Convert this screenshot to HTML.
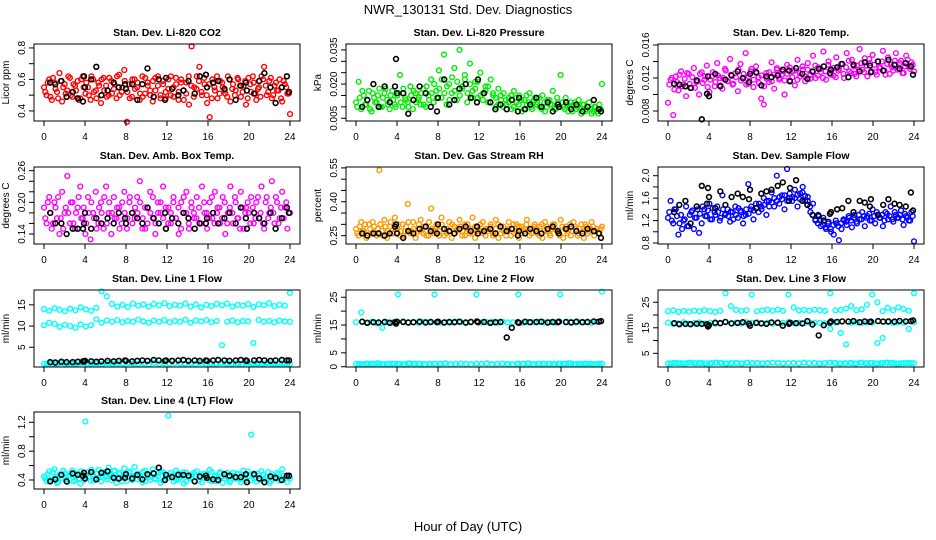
<!DOCTYPE html>
<html><head><meta charset="utf-8"><style>
html,body{margin:0;padding:0;background:#fff}
svg{display:block;font-family:"Liberation Sans",Arial,sans-serif}
</style></head><body>
<svg id="c" width="936" height="540" viewBox="0 0 936 540">
<text x="468" y="14" text-anchor="middle" font-size="13">NWR_130131  Std. Dev. Diagnostics</text>
<text x="468" y="531" text-anchor="middle" font-size="13">Hour of Day (UTC)</text>
</svg>
<script>
// shared hourly sample times (black points)
const hourX = [0.6,1.1,1.7,2.2,2.8,3.3,3.8,3.9,4.0,4.6,5.1,5.6,6.2,6.8,7.3,7.9,8.0,8.6,9.1,9.6,10.1,10.7,11.2,11.8,11.9,12.5,13.1,13.6,14.1,14.7,15.2,15.8,15.9,16.5,17.0,17.6,18.1,18.7,19.2,19.7,19.8,20.5,21.0,21.5,22.1,22.6,23.2,23.7,23.9];
const xTicks = [0,4,8,12,16,20,24];

const co2 = [0.55,0.50,0.60,0.47,0.58,0.52,0.64,0.46,0.57,0.53,0.61,0.49,0.56,0.59,0.48,0.62,0.51,0.55,0.47,0.60,0.53,0.58,0.45,0.61,0.56,0.50,0.59,0.54,0.48,0.63,0.52,0.66,0.33,0.57,0.49,0.60,0.55,0.47,0.62,0.51,0.58,0.53,0.46,0.61,0.56,0.50,0.59,0.48,0.54,0.62,0.49,0.57,0.52,0.60,0.47,0.58,0.44,0.81,0.55,0.62,0.68,0.50,0.57,0.45,0.36,0.60,0.53,0.48,0.59,0.55,0.51,0.62,0.46,0.57,0.53,0.60,0.49,0.56,0.44,0.61,0.52,0.58,0.47,0.55,0.62,0.68,0.50,0.59,0.48,0.56,0.53,0.60,0.46,0.57,0.51,0.38];
const co2B = [0.52,0.58,0.49,0.61,0.54,0.48,0.59,0.55,0.51,0.62,0.50,0.57,0.53,0.47,0.60,0.55,0.58,0.50,0.62,0.52,0.48,0.56,0.60,0.53,0.49,0.61,0.51,0.57,0.62,0.50,0.55,0.59,0.52,0.48,0.60,0.54,0.58,0.51,0.49,0.61,0.56,0.50,0.59,0.53,0.62,0.48,0.57,0.52,0.60,0.50,0.55,0.61,0.47,0.58,0.53,0.51,0.62,0.56,0.49,0.54,0.59,0.52,0.61,0.50,0.57,0.48,0.55,0.62,0.51,0.58,0.53,0.49,0.60,0.54,0.50,0.61,0.56,0.52,0.59,0.48,0.57,0.62,0.51,0.54,0.49,0.60,0.56,0.52,0.61,0.50,0.58,0.53,0.48,0.59,0.55,0.51];
const co2Hr = [0.58,0.57,0.59,0.49,0.52,0.48,0.46,0.62,0.55,0.60,0.68,0.50,0.53,0.58,0.55,0.57,0.54,0.57,0.47,0.57,0.67,0.49,0.60,0.47,0.61,0.54,0.50,0.53,0.59,0.51,0.62,0.63,0.55,0.58,0.59,0.54,0.60,0.47,0.56,0.58,0.53,0.51,0.59,0.64,0.55,0.45,0.55,0.62,0.52];

const press = [0.012,0.021,0.009,0.015,0.011,0.017,0.008,0.014,0.012,0.018,0.010,0.016,0.013,0.009,0.017,0.011,0.015,0.024,0.010,0.014,0.012,0.019,0.009,0.016,0.013,0.011,0.018,0.010,0.015,0.022,0.012,0.017,0.026,0.014,0.033,0.011,0.020,0.016,0.027,0.013,0.035,0.018,0.024,0.012,0.029,0.017,0.021,0.014,0.025,0.016,0.019,0.012,0.022,0.015,0.010,0.018,0.013,0.016,0.011,0.014,0.009,0.017,0.012,0.015,0.008,0.013,0.011,0.016,0.009,0.014,0.012,0.010,0.015,0.008,0.013,0.011,0.017,0.009,0.012,0.024,0.010,0.014,0.008,0.012,0.011,0.009,0.013,0.007,0.011,0.009,0.012,0.007,0.010,0.008,0.011,0.020];
const pressB = [0.010,0.014,0.017,0.011,0.013,0.009,0.016,0.012,0.015,0.010,0.014,0.018,0.011,0.015,0.013,0.010,0.016,0.012,0.018,0.013,0.010,0.015,0.017,0.012,0.014,0.016,0.011,0.019,0.013,0.016,0.020,0.014,0.018,0.022,0.016,0.019,0.013,0.023,0.017,0.021,0.015,0.019,0.022,0.016,0.020,0.014,0.018,0.021,0.015,0.013,0.017,0.019,0.012,0.016,0.014,0.011,0.015,0.010,0.013,0.012,0.015,0.010,0.014,0.011,0.013,0.009,0.015,0.012,0.010,0.013,0.011,0.014,0.009,0.012,0.010,0.013,0.011,0.009,0.014,0.010,0.012,0.009,0.011,0.010,0.008,0.012,0.010,0.009,0.011,0.008,0.010,0.009,0.008,0.010,0.007,0.009];
const pressHr = [0.010,0.013,0.020,0.010,0.019,0.012,0.019,0.031,0.016,0.016,0.007,0.013,0.019,0.016,0.010,0.008,0.014,0.022,0.011,0.013,0.018,0.020,0.014,0.012,0.022,0.016,0.012,0.009,0.011,0.009,0.013,0.008,0.014,0.009,0.011,0.014,0.010,0.012,0.008,0.011,0.010,0.012,0.009,0.011,0.008,0.010,0.013,0.009,0.008];

const ltemp = [0.0090,0.0118,0.0075,0.0122,0.0105,0.0128,0.0112,0.0098,0.0125,0.0108,0.0132,0.0115,0.0100,0.0127,0.0118,0.0135,0.0103,0.0122,0.0110,0.0138,0.0120,0.0107,0.0131,0.0116,0.0143,0.0112,0.0126,0.0104,0.0137,0.0119,0.0150,0.0113,0.0128,0.0109,0.0134,0.0121,0.0095,0.0088,0.0126,0.0115,0.0139,0.0107,0.0130,0.0118,0.0124,0.0100,0.0136,0.0117,0.0128,0.0111,0.0142,0.0122,0.0130,0.0116,0.0138,0.0124,0.0147,0.0120,0.0133,0.0127,0.0152,0.0118,0.0140,0.0129,0.0123,0.0145,0.0131,0.0137,0.0120,0.0150,0.0128,0.0142,0.0125,0.0135,0.0155,0.0130,0.0144,0.0122,0.0138,0.0148,0.0127,0.0140,0.0133,0.0153,0.0124,0.0145,0.0136,0.0129,0.0150,0.0132,0.0141,0.0126,0.0147,0.0134,0.0139,0.0128];
const ltempB = [0.0112,0.0120,0.0106,0.0115,0.0124,0.0110,0.0119,0.0126,0.0113,0.0121,0.0108,0.0117,0.0125,0.0114,0.0122,0.0109,0.0118,0.0127,0.0115,0.0123,0.0111,0.0120,0.0129,0.0116,0.0124,0.0113,0.0121,0.0130,0.0117,0.0125,0.0112,0.0122,0.0131,0.0118,0.0126,0.0114,0.0123,0.0110,0.0119,0.0127,0.0116,0.0124,0.0132,0.0120,0.0128,0.0117,0.0125,0.0133,0.0121,0.0129,0.0118,0.0126,0.0134,0.0122,0.0130,0.0119,0.0127,0.0135,0.0123,0.0131,0.0120,0.0128,0.0136,0.0124,0.0132,0.0121,0.0129,0.0137,0.0125,0.0133,0.0141,0.0126,0.0134,0.0122,0.0130,0.0138,0.0127,0.0135,0.0143,0.0128,0.0136,0.0124,0.0132,0.0140,0.0129,0.0137,0.0125,0.0133,0.0141,0.0130,0.0138,0.0126,0.0134,0.0142,0.0131,0.0136];
const ltempHr = [0.0113,0.0112,0.0110,0.0108,0.0117,0.0070,0.0101,0.0122,0.0098,0.0125,0.0110,0.0118,0.0123,0.0128,0.0120,0.0115,0.0125,0.0127,0.0111,0.0122,0.0121,0.0123,0.0130,0.0129,0.0116,0.0132,0.0125,0.0119,0.0128,0.0131,0.0134,0.0126,0.0130,0.0133,0.0137,0.0121,0.0136,0.0128,0.0139,0.0135,0.0127,0.0140,0.0129,0.0142,0.0136,0.0131,0.0138,0.0134,0.0124];

const btemp = [0.19,0.16,0.21,0.15,0.20,0.17,0.14,0.22,0.18,0.25,0.16,0.20,0.15,0.19,0.23,0.17,0.14,0.21,0.13,0.18,0.22,0.16,0.20,0.15,0.23,0.18,0.14,0.21,0.17,0.19,0.16,0.22,0.15,0.20,0.18,0.17,0.21,0.24,0.15,0.19,0.16,0.22,0.17,0.14,0.20,0.18,0.23,0.15,0.19,0.16,0.21,0.17,0.14,0.20,0.18,0.22,0.15,0.19,0.17,0.21,0.16,0.23,0.18,0.15,0.20,0.17,0.22,0.19,0.16,0.21,0.14,0.18,0.23,0.16,0.20,0.17,0.22,0.15,0.19,0.18,0.21,0.16,0.20,0.17,0.23,0.15,0.21,0.18,0.24,0.16,0.20,0.17,0.22,0.19,0.15,0.18];
const btempB = [0.17,0.20,0.18,0.16,0.19,0.21,0.17,0.15,0.19,0.18,0.20,0.16,0.18,0.21,0.17,0.19,0.16,0.18,0.20,0.17,0.15,0.19,0.18,0.21,0.16,0.20,0.18,0.17,0.19,0.15,0.20,0.18,0.17,0.21,0.16,0.19,0.18,0.20,0.17,0.15,0.19,0.18,0.21,0.16,0.18,0.20,0.17,0.19,0.16,0.18,0.20,0.17,0.19,0.15,0.21,0.18,0.16,0.20,0.18,0.17,0.19,0.16,0.20,0.18,0.17,0.21,0.16,0.18,0.19,0.17,0.20,0.16,0.19,0.18,0.21,0.17,0.15,0.19,0.18,0.20,0.16,0.19,0.17,0.21,0.18,0.16,0.20,0.17,0.19,0.18,0.21,0.16,0.19,0.17,0.20,0.18];
const btempHr = [0.18,0.16,0.16,0.14,0.15,0.15,0.15,0.16,0.18,0.15,0.17,0.16,0.17,0.16,0.18,0.17,0.16,0.18,0.17,0.16,0.19,0.17,0.16,0.18,0.15,0.17,0.16,0.18,0.17,0.15,0.16,0.16,0.17,0.18,0.16,0.17,0.18,0.16,0.19,0.17,0.15,0.18,0.17,0.16,0.18,0.15,0.17,0.19,0.18];

const rh = [0.28,0.25,0.31,0.27,0.24,0.30,0.26,0.29,0.25,0.54,0.27,0.32,0.24,0.29,0.26,0.33,0.28,0.25,0.30,0.27,0.39,0.26,0.31,0.24,0.28,0.32,0.26,0.29,0.25,0.37,0.27,0.30,0.25,0.33,0.28,0.26,0.31,0.24,0.29,0.27,0.32,0.25,0.30,0.28,0.26,0.33,0.24,0.29,0.27,0.31,0.25,0.28,0.30,0.26,0.32,0.24,0.29,0.27,0.25,0.31,0.28,0.26,0.30,0.24,0.29,0.27,0.32,0.25,0.28,0.30,0.26,0.29,0.24,0.31,0.27,0.25,0.30,0.28,0.26,0.32,0.24,0.29,0.27,0.25,0.31,0.28,0.26,0.30,0.24,0.29,0.27,0.31,0.25,0.28,0.26,0.29];
const rhB = [0.26,0.29,0.27,0.30,0.25,0.28,0.31,0.26,0.28,0.30,0.25,0.29,0.27,0.31,0.26,0.28,0.30,0.27,0.25,0.29,0.31,0.27,0.28,0.26,0.30,0.27,0.29,0.25,0.31,0.28,0.26,0.29,0.27,0.30,0.25,0.28,0.27,0.30,0.26,0.28,0.29,0.27,0.25,0.30,0.28,0.26,0.29,0.27,0.30,0.26,0.28,0.27,0.29,0.25,0.28,0.30,0.26,0.29,0.27,0.28,0.25,0.30,0.27,0.29,0.26,0.28,0.30,0.27,0.26,0.29,0.28,0.25,0.30,0.27,0.29,0.26,0.28,0.30,0.27,0.25,0.29,0.28,0.26,0.30,0.27,0.29,0.25,0.28,0.27,0.30,0.26,0.28,0.29,0.27,0.26,0.28];
const rhHr = [0.26,0.25,0.26,0.26,0.25,0.26,0.29,0.30,0.26,0.24,0.27,0.26,0.28,0.29,0.27,0.26,0.30,0.28,0.27,0.26,0.28,0.29,0.27,0.29,0.26,0.27,0.28,0.26,0.29,0.27,0.28,0.25,0.27,0.26,0.28,0.27,0.26,0.28,0.29,0.27,0.26,0.28,0.29,0.27,0.26,0.28,0.27,0.26,0.24];

const sflow = [1.25,1.55,1.15,1.40,0.95,1.30,1.20,1.45,1.10,1.35,1.05,1.25,0.98,1.15,1.40,1.28,1.50,1.22,1.35,1.45,1.20,1.65,1.30,1.40,1.18,1.35,1.45,1.25,1.38,1.15,1.30,1.85,1.40,1.22,1.50,1.35,1.45,1.60,1.30,1.55,1.70,1.45,2.00,1.50,1.65,1.40,2.12,1.60,1.55,1.75,1.45,1.68,1.80,1.55,1.62,1.35,1.50,1.20,1.30,1.10,1.25,1.05,1.18,1.00,0.95,1.15,0.85,1.05,1.20,1.12,1.25,1.08,1.30,1.15,1.22,1.35,1.10,1.28,1.20,1.40,1.15,1.30,1.25,1.10,1.35,1.22,1.45,1.18,1.30,1.25,1.38,1.12,1.28,1.20,1.35,0.83];
const sflowB = [1.35,1.20,1.40,1.28,1.15,1.05,1.22,1.10,1.30,1.38,1.25,1.40,1.32,1.45,1.28,1.38,1.22,1.42,1.30,1.35,1.25,1.40,1.32,1.28,1.36,1.22,1.30,1.42,1.35,1.28,1.40,1.32,1.45,1.38,1.42,1.50,1.40,1.48,1.55,1.45,1.52,1.60,1.55,1.62,1.58,1.65,1.55,1.68,1.62,1.60,1.66,1.58,1.70,1.64,1.55,1.45,1.30,1.22,1.15,1.20,1.12,1.08,1.15,1.05,1.12,1.20,1.10,1.15,1.22,1.18,1.28,1.20,1.25,1.18,1.30,1.22,1.28,1.25,1.32,1.20,1.28,1.35,1.25,1.30,1.20,1.32,1.28,1.22,1.35,1.25,1.30,1.22,1.32,1.26,1.20,1.28];
const sflowHr = [1.35,1.48,1.55,1.15,1.45,1.82,1.50,1.78,1.62,1.42,1.72,1.48,1.62,1.68,1.62,1.58,1.75,1.42,1.68,1.72,1.75,1.82,1.88,1.55,1.78,1.92,1.55,1.48,1.30,1.28,1.20,1.32,1.35,1.40,1.42,1.55,1.35,1.55,1.52,1.45,1.58,1.30,1.48,1.58,1.50,1.48,1.45,1.70,1.38];

const l1a = [14.0,13.6,14.2,13.8,13.5,14.1,13.7,14.4,13.9,13.6,14.3,18.2,17.0,15.2,14.6,15.0,14.5,15.3,14.8,15.1,14.6,15.2,14.9,15.4,14.7,15.0,14.8,15.3,14.6,15.1,14.4,15.0,14.7,15.2,14.9,15.3,14.6,15.0,14.8,15.2,14.5,15.1,14.9,15.4,14.7,15.0,14.8,17.8];
const l1b = [10.2,10.8,10.5,9.8,10.3,10.0,9.6,10.4,9.9,10.2,11.6,10.8,11.3,11.0,11.4,10.9,11.2,11.0,11.5,11.1,10.8,11.3,11.0,11.4,10.9,11.2,11.0,11.5,10.8,11.3,11.1,11.4,10.9,11.2,5.5,11.0,11.3,10.9,11.2,11.1,6.0,11.4,11.0,11.2,10.9,11.3,11.1,11.0];
const l1c = [1.1,1.2,1.0,1.3,1.1,1.2,1.1,1.3,1.2,1.1,1.2,1.0,1.3,1.1,1.2,1.1,1.3,1.2,1.1,1.2,1.0,1.3,1.1,1.2,1.1,1.3,1.2,1.1,1.2,1.0,1.3,1.1,1.2,1.1,1.3,1.2,1.1,1.2,1.0,1.3,1.1,1.2,1.1,1.3,1.2,1.1,1.2,1.1];
const l1Hr = [1.5,1.4,1.6,1.5,1.5,1.6,1.7,1.6,1.8,1.7,1.6,1.7,1.8,1.7,1.8,1.9,1.8,1.7,1.8,1.9,1.8,2.0,1.9,1.8,1.9,1.8,1.9,2.0,1.8,1.9,1.8,1.9,1.8,1.9,2.0,1.9,1.8,1.9,2.0,1.9,1.8,1.9,2.0,1.9,1.8,1.9,2.0,1.9,1.9];

const l2a = [16.0,19.5,15.8,16.2,15.6,14.0,16.1,15.9,26.0,16.3,15.8,16.0,15.7,16.2,16.0,26.0,15.9,16.1,15.8,16.3,16.0,15.7,16.2,26.0,15.9,16.0,16.1,15.8,16.2,15.9,16.0,26.0,15.8,16.1,16.0,16.2,15.9,16.1,15.8,26.0,16.0,16.2,15.9,16.1,16.0,15.8,16.2,27.0];
const l2b = [1.0,0.9,1.1,1.0,1.2,0.9,1.0,1.1,1.0,0.9,1.2,1.0,1.1,0.9,1.0,1.1,1.0,1.2,0.9,1.0,1.1,1.0,0.9,1.1,1.0,1.2,0.9,1.0,1.1,1.0,0.9,1.1,1.0,1.2,0.9,1.0,1.1,1.0,0.9,1.1,1.0,1.2,0.9,1.0,1.1,1.0,0.9,1.1];
const l2Hr = [16.2,15.8,16.0,15.9,16.1,15.8,16.0,15.5,16.2,16.1,15.9,16.0,16.2,15.9,16.1,16.0,16.2,15.9,16.1,16.0,16.2,15.9,16.1,16.3,16.0,16.1,15.8,16.0,16.1,10.5,14.0,16.0,15.8,16.2,16.0,16.1,16.2,15.9,16.1,16.0,16.2,16.1,15.9,16.2,16.0,16.1,16.3,16.2,16.4];

const l3a = [21.5,21.8,21.2,21.6,21.3,21.7,21.4,21.9,21.5,21.2,21.6,28.5,23.5,22.0,21.6,21.9,28.0,21.5,21.8,22.0,21.7,22.1,21.6,28.0,23.0,21.8,22.0,21.7,22.1,21.9,21.6,28.5,21.8,22.0,22.5,23.5,21.9,22.2,24.0,28.0,25.0,21.5,22.8,21.9,23.0,22.4,21.7,28.5];
const l3b = [17.0,16.5,16.8,17.2,16.6,16.9,17.1,16.7,17.0,16.6,16.9,17.2,16.8,17.0,16.7,17.1,16.9,17.2,16.8,17.0,16.6,17.1,16.9,17.2,16.8,17.0,16.7,17.1,16.9,17.0,16.8,14.5,17.1,13.0,8.5,17.0,17.2,16.9,17.1,17.0,9.0,11.0,17.2,16.9,17.1,17.0,14.5,17.2];
const l3c = [1.0,1.2,1.1,1.0,1.3,1.1,1.2,1.0,1.1,1.3,1.2,1.0,1.1,1.2,1.0,1.3,1.1,1.2,1.0,1.1,1.3,1.2,1.0,1.1,1.2,1.0,1.3,1.1,1.2,1.0,1.1,1.3,1.2,1.0,1.1,1.2,1.0,1.3,1.1,1.2,1.0,1.1,1.3,1.2,1.0,1.1,1.2,1.1];
const l3Hr = [16.8,16.4,16.5,16.4,16.6,16.5,16.4,15.5,16.0,17.0,16.8,17.3,16.7,16.9,17.2,16.6,15.8,16.9,16.7,16.5,17.1,17.0,15.8,16.5,17.0,16.8,16.7,17.6,16.3,12.0,16.0,17.0,17.5,17.3,17.5,17.4,17.6,17.2,17.5,17.3,17.4,17.6,17.4,17.5,17.4,17.7,17.5,17.6,17.9];

const l4 = [0.45,0.38,0.52,0.41,0.55,0.36,0.48,0.43,0.50,0.37,0.46,0.53,0.40,0.49,0.35,0.44,1.21,0.51,0.39,0.47,0.42,0.54,0.38,0.49,0.45,0.57,0.40,0.52,0.36,0.48,0.43,0.56,0.39,0.50,0.44,0.58,0.41,0.47,0.37,0.53,0.45,0.40,0.55,0.42,0.49,0.36,0.51,0.44,1.29,0.46,0.38,0.53,0.41,0.48,0.35,0.50,0.43,0.47,0.39,0.52,0.44,0.37,0.49,0.42,0.54,0.38,0.46,0.41,0.51,0.36,0.48,0.44,0.39,0.50,0.42,0.47,0.37,0.53,0.40,0.45,1.03,0.49,0.38,0.46,0.52,0.41,0.44,0.36,0.48,0.42,0.50,0.39,0.55,0.43,0.37,0.42];
const l4B = [0.42,0.48,0.39,0.51,0.44,0.37,0.47,0.53,0.41,0.45,0.50,0.38,0.46,0.42,0.52,0.40,0.47,0.44,0.54,0.39,0.49,0.43,0.46,0.51,0.41,0.48,0.45,0.53,0.42,0.50,0.38,0.47,0.44,0.52,0.40,0.46,0.49,0.43,0.51,0.38,0.47,0.44,0.50,0.41,0.45,0.52,0.39,0.48,0.43,0.50,0.46,0.40,0.49,0.44,0.51,0.38,0.46,0.42,0.50,0.45,0.39,0.48,0.43,0.47,0.40,0.51,0.44,0.38,0.49,0.45,0.42,0.50,0.37,0.46,0.44,0.49,0.41,0.47,0.43,0.52,0.39,0.46,0.42,0.49,0.40,0.47,0.44,0.51,0.38,0.45,0.42,0.48,0.40,0.46,0.43,0.44];
const l4Hr = [0.38,0.41,0.47,0.38,0.49,0.47,0.46,0.50,0.42,0.51,0.41,0.50,0.52,0.43,0.42,0.43,0.48,0.42,0.47,0.41,0.48,0.49,0.57,0.40,0.47,0.44,0.47,0.47,0.46,0.38,0.45,0.46,0.43,0.41,0.40,0.48,0.46,0.44,0.44,0.48,0.37,0.48,0.42,0.37,0.45,0.43,0.40,0.46,0.46];

// series entries: [values, colour, isHourly, halfStepOffset]
const panels = [
 {name:'co2',title:'Stan. Dev. Li-820 CO2',ylab:'Licor ppm',lo:0.336,hi:0.825,ticks:[0.4,0.5,0.6,0.7,0.8],labs:['0.4','0.6','0.8'],series:[[co2,'#ff0000'],[co2B,'#ff0000',false,true],[co2Hr,'#000000',true]]},
 {name:'pressure',title:'Stan. Dev. Li-820 Pressure',ylab:'kPa',lo:0.0038,hi:0.0376,ticks:[0.005,0.010,0.015,0.020,0.025,0.030,0.035],labs:['0.005','0.020','0.035'],series:[[press,'#00ee00'],[pressB,'#00ee00',false,true],[pressHr,'#000000',true]]},
 {name:'li820-temp',title:'Stan. Dev. Li-820 Temp.',ylab:'degrees C',lo:0.00679,hi:0.01612,ticks:[0.008,0.010,0.012,0.014,0.016],labs:['0.008','0.012','0.016'],series:[[ltemp,'#ff00ff'],[ltempB,'#ff00ff',false,true],[ltempHr,'#000000',true]]},
 {name:'box-temp',title:'Stan. Dev. Amb. Box Temp.',ylab:'degrees C',lo:0.121,hi:0.267,ticks:[0.14,0.16,0.18,0.20,0.22,0.24,0.26],labs:['0.14','0.20','0.26'],series:[[btemp,'#ff00ff'],[btempB,'#ff00ff',false,true],[btempHr,'#000000',true]]},
 {name:'gas-rh',title:'Stan. Dev. Gas Stream RH',ylab:'percent',lo:0.213,hi:0.554,ticks:[0.25,0.30,0.35,0.40,0.45,0.50,0.55],labs:['0.25','0.40','0.55'],series:[[rh,'#ff9900'],[rhB,'#ff9900',false,true],[rhHr,'#000000',true]]},
 {name:'sample-flow',title:'Stan. Dev. Sample Flow',ylab:'ml/min',lo:0.782,hi:2.155,ticks:[0.8,1.0,1.2,1.4,1.6,1.8,2.0],labs:['0.8','1.2','1.6','2.0'],series:[[sflow,'#0000ff'],[sflowB,'#0000ff',false,true],[sflowHr,'#000000',true]]},
 {name:'line1-flow',title:'Stan. Dev. Line 1 Flow',ylab:'ml/min',lo:0.35,hi:18.5,ticks:[5,10,15],labs:['5','10','15'],series:[[l1a,'#00ffff'],[l1b,'#00ffff'],[l1c,'#00ffff'],[l1c,'#00ffff',false,true],[l1Hr,'#000000',true]]},
 {name:'line2-flow',title:'Stan. Dev. Line 2 Flow',ylab:'ml/min',lo:-0.1,hi:27.6,ticks:[0,5,10,15,20,25],labs:['0','5','15','25'],series:[[l2a,'#00ffff'],[l2b,'#00ffff'],[l2b,'#00ffff',false,true],[l2Hr,'#000000',true]]},
 {name:'line3-flow',title:'Stan. Dev. Line 3 Flow',ylab:'ml/min',lo:-0.37,hi:29.8,ticks:[5,10,15,20,25],labs:['5','15','25'],series:[[l3a,'#00ffff'],[l3b,'#00ffff'],[l3c,'#00ffff'],[l3c,'#00ffff',false,true],[l3Hr,'#000000',true]]},
 {name:'line4-flow',title:'Stan. Dev. Line 4 (LT) Flow',ylab:'ml/min',lo:0.275,hi:1.343,ticks:[0.4,0.6,0.8,1.0,1.2],labs:['0.4','0.8','1.2'],series:[[l4,'#00ffff'],[l4B,'#00ffff',false,true],[l4Hr,'#000000',true]]}
];

const NS='http://www.w3.org/2000/svg';
const svg=document.getElementById('c');
const colLeft=[34,346,658], rowTop=[44,167,290,412], W=266, H=77, XLO=-0.976, XHI=24.976;
function mk(tag,attrs,parent){const e=document.createElementNS(NS,tag);for(const k in attrs)e.setAttribute(k,attrs[k]);(parent||svg).appendChild(e);return e;}

panels.forEach((p,i)=>{
  const L=colLeft[i%3], T=rowTop[Math.floor(i/3)];
  const xs=v=>L+(v-XLO)/(XHI-XLO)*W;
  const ys=v=>T+H-(v-p.lo)/(p.hi-p.lo)*H;
  const g=mk('g',{});
  
  
  const t=mk('text',{x:L+W/2,y:T-8,'text-anchor':'middle','font-size':'10.5','font-weight':'bold'},g);
  t.textContent=p.title;
  
  
  const yl=mk('text',{x:0,y:0,'text-anchor':'middle','font-size':'10',transform:`translate(${L-25},${T+H/2}) rotate(-90)`},g);
  yl.textContent=p.ylab;
  
  
  p.series.forEach(s=>{
    const arr=s[0], col=s[1], hourly=s[2], half=s[3];
    arr.forEach((v,j)=>{
      const xv = hourly ? hourX[j] : (half ? (j+0.5)*24/arr.length : j*24/(arr.length-1));
      const c=mk('circle',{cx:xs(xv).toFixed(1),cy:ys(v).toFixed(1),r:2.4,fill:'none',stroke:col,'stroke-width':hourly?1.6:1.4},g);
      
      
    });
  });
  const box=mk('rect',{x:L,y:T,width:W,height:H,fill:'none',stroke:'#000','stroke-width':1},g);
  
  
  xTicks.forEach(v=>{
    const x=xs(v);
    mk('line',{x1:x,x2:x,y1:T+H,y2:T+H+5,stroke:'#000'},g);
    const lt=mk('text',{x:x,y:T+H+19,'text-anchor':'middle','font-size':'10'},g);
    lt.textContent=v;
    
    
  });
  p.ticks.forEach(v=>{
    const y=ys(v);
    mk('line',{x1:L-5,x2:L,y1:y,y2:y,stroke:'#000'},g);
    const lab=p.labs.find(s=>Math.abs(parseFloat(s)-v)<1e-9);
    if(lab){
      const lt=mk('text',{x:0,y:0,'text-anchor':'middle','font-size':'10',transform:`translate(${L-9},${y}) rotate(-90)`},g);
      lt.textContent=lab;
      
      
    }
  });
});
</script>
</body></html>
